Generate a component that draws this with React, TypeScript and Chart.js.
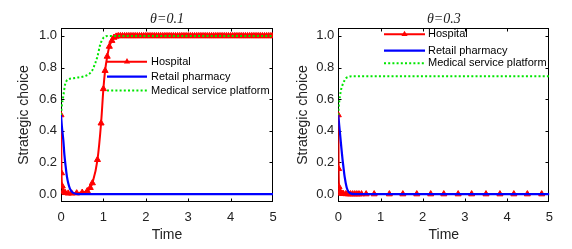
import React, { useEffect, useRef } from "react";
import { Chart, registerables } from "chart.js";

Chart.register(...registerables);

// ---------------- data ----------------
const seriesNames = ["Hospital", "Retail pharmacy", "Medical service platform"];
const panelTitles = ["θ=0.1", "θ=0.3"];
const timeTicks = [0, 1, 2, 3, 4, 5];
const choiceTicks = [0, 0.2, 0.4, 0.6, 0.8, 1.0];
const axisTitleX = "Time";
const axisTitleY = "Strategic choice";

// panel A : θ = 0.1
const hospitalTimeA = [
  0, 0.012, 0.03, 0.055, 0.1, 0.17, 0.25, 0.37, 0.5, 0.62,
  0.69, 0.74, 0.86, 0.945, 1.0, 1.04, 1.09, 1.14, 1.2, 1.25,
  1.3,
  1.35, 1.4, 1.45, 1.5, 1.55, 1.6, 1.65, 1.7, 1.75, 1.8,
  1.85, 1.9, 1.95, 2, 2.05, 2.1, 2.15, 2.2, 2.25, 2.3,
  2.35, 2.4, 2.45, 2.5, 2.55, 2.6, 2.65, 2.7, 2.75, 2.8,
  2.85, 2.9, 2.95, 3, 3.05, 3.1, 3.15, 3.2, 3.25, 3.3,
  3.35, 3.4, 3.45, 3.5, 3.55, 3.6, 3.65, 3.7, 3.75, 3.8,
  3.85, 3.9, 3.95, 4, 4.05, 4.1, 4.15, 4.2, 4.25, 4.3,
  4.35, 4.4, 4.45, 4.5, 4.55, 4.6, 4.65, 4.7, 4.75, 4.8,
  4.85, 4.9, 4.95, 5,
];
const hospitalA = [
  0.5, 0.133, 0.05, 0.017, 0.008, 0.005, 0.005, 0.006, 0.01, 0.02,
  0.04, 0.07, 0.217, 0.448, 0.665, 0.78, 0.87, 0.933, 0.97, 0.99,
  0.997,
  1, 1, 1, 1, 1, 1, 1, 1, 1, 1,
  1, 1, 1, 1, 1, 1, 1, 1, 1, 1,
  1, 1, 1, 1, 1, 1, 1, 1, 1, 1,
  1, 1, 1, 1, 1, 1, 1, 1, 1, 1,
  1, 1, 1, 1, 1, 1, 1, 1, 1, 1,
  1, 1, 1, 1, 1, 1, 1, 1, 1, 1,
  1, 1, 1, 1, 1, 1, 1, 1, 1, 1,
  1, 1, 1, 1,
];
const pharmacyTimeA = [0, 0.02, 0.055, 0.08, 0.11, 0.14, 0.17, 0.21, 0.25, 0.3, 0.4, 5];
const pharmacyA = [0.5, 0.43, 0.34, 0.25, 0.175, 0.11, 0.07, 0.035, 0.017, 0.006, 0, 0];
const platformTimeA = [0, 0.02, 0.055, 0.094, 0.13, 0.17, 0.3, 0.45, 0.55, 0.65, 0.72, 0.76, 0.81, 0.86, 0.92, 0.97, 1.0, 1.05, 1.1, 1.3, 5];
const platformA = [0.5, 0.56, 0.62, 0.69, 0.715, 0.725, 0.733, 0.739, 0.745, 0.757, 0.775, 0.795, 0.83, 0.87, 0.94, 0.975, 0.988, 0.997, 1.0, 1.0, 1.0];

// panel B : θ = 0.3
const hospitalTimeB = [
  0, 0.008, 0.018, 0.03, 0.045, 0.065, 0.09, 0.12, 0.18,
  0.24, 0.29, 0.34, 0.39, 0.44, 0.49, 0.55, 0.66, 0.85,
  1.21, 1.53, 1.86, 2.19, 2.5, 2.84, 3.16, 3.5, 3.83, 4.16, 4.48, 4.82, 5,
];
const hospitalB = [
  0.5, 0.16, 0.045, 0.02, 0.01, 0.005, 0.003, 0.002, 0.001,
  0, 0, 0, 0, 0, 0, 0, 0, 0,
  0, 0, 0, 0, 0, 0, 0, 0, 0, 0, 0, 0, 0,
];
const pharmacyTimeB = [0, 0.02, 0.04, 0.07, 0.1, 0.12, 0.15, 0.2, 0.25, 0.3, 0.4, 5];
const pharmacyB = [0.5, 0.44, 0.385, 0.3, 0.22, 0.175, 0.11, 0.04, 0.012, 0.003, 0, 0];
const platformTimeB = [0, 0.01, 0.04, 0.07, 0.1, 0.14, 0.18, 0.23, 0.28, 0.4, 5];
const platformB = [0.5, 0.55, 0.62, 0.665, 0.69, 0.715, 0.732, 0.74, 0.744, 0.745, 0.745];

// ---------------- styling / layout ----------------
const FONT = "'Liberation Sans', Arial, sans-serif";
const TEXT = "#222222";
const COLORS = ["#ff0000", "#0000ff", "#00e600"];

const panels = [
  {
    title: panelTitles[0],
    series: [
      [hospitalTimeA, hospitalA],
      [pharmacyTimeA, pharmacyA],
      [platformTimeA, platformA],
    ],
    left: 0,
    width: 290,
    pad: { left: 15.6, right: 17, top: 0, bottom: 5.6 },
    plotLeft: 61,
    hideEndMarker: false,
    legend: { x0: 46, x1: 86, text: 90, rows: [33.7, 48.7, 62.5] },
  },
  {
    title: panelTitles[1],
    series: [
      [hospitalTimeB, hospitalB],
      [pharmacyTimeB, pharmacyB],
      [platformTimeB, platformB],
    ],
    left: 290,
    width: 282,
    pad: { left: 4.6, right: 22.7, top: 0, bottom: 5.6 },
    plotLeft: 48.3,
    hideEndMarker: true,
    legend: { x0: 45.7, x1: 86.7, text: 89.7, rows: [6.3, 22.7, 35.3] },
  },
];

const HEIGHT = 249;
const PLOT_TOP = 28;
const PLOT_BOTTOM = 202;

function zip(t: number[], v: number[]) {
  return t.map((x, i) => ({ x, y: v[i] }));
}

function triangle(ctx: CanvasRenderingContext2D, x: number, y: number, r: number) {
  ctx.beginPath();
  for (let k = 0; k < 3; k++) {
    const a = (k * 2 * Math.PI) / 3;
    const px = x + Math.sin(a) * r;
    const py = y - Math.cos(a) * r;
    if (k === 0) ctx.moveTo(px, py);
    else ctx.lineTo(px, py);
  }
  ctx.closePath();
  ctx.fill();
}

const boxPlugin = {
  id: "matlabBox",
  beforeDatasetsDraw(chart: any) {
    const { ctx, chartArea } = chart;
    const { left, right, top, bottom } = chartArea;
    const xs = chart.scales.x;
    const ys = chart.scales.y;
    ctx.save();
    ctx.strokeStyle = "#000";
    ctx.lineWidth = 1;
    const L = Math.round(left) + 0.5;
    const R = Math.round(right) - 0.5;
    const T = Math.round(top) + 0.5;
    const B = Math.round(bottom) - 0.5;
    ctx.strokeRect(L, T, R - L, B - T);
    const tl = 3;
    ctx.beginPath();
    timeTicks.forEach((v) => {
      const px = Math.round(xs.getPixelForValue(v)) + 0.5;
      if (px <= L + 1 || px >= R - 1) return;
      ctx.moveTo(px, B);
      ctx.lineTo(px, B - tl);
      ctx.moveTo(px, T);
      ctx.lineTo(px, T + tl);
    });
    choiceTicks.forEach((v) => {
      const py = Math.round(ys.getPixelForValue(v)) + 0.5;
      ctx.moveTo(L, py);
      ctx.lineTo(L + tl, py);
      ctx.moveTo(R, py);
      ctx.lineTo(R - tl, py);
    });
    ctx.stroke();
    ctx.restore();
  },
};

const legendPlugin = {
  id: "insideLegend",
  afterDatasetsDraw(chart: any, _args: any, opts: any) {
    const { ctx, chartArea } = chart;
    const lg = opts.layout;
    if (!lg) return;
    ctx.save();
    chart.data.datasets.forEach((ds: any, i: number) => {
      const y = chartArea.top + lg.rows[i];
      const x0 = chartArea.left + lg.x0;
      const x1 = chartArea.left + lg.x1;
      ctx.strokeStyle = ds.borderColor;
      ctx.lineWidth = ds.borderWidth;
      ctx.setLineDash(ds.borderDash || []);
      ctx.beginPath();
      ctx.moveTo(x0, y);
      ctx.lineTo(x1, y);
      ctx.stroke();
      ctx.setLineDash([]);
      if (ds.pointStyle === "triangle") {
        ctx.fillStyle = ds.borderColor;
        triangle(ctx, (x0 + x1) / 2, y, 3.6);
      }
      ctx.fillStyle = "#000";
      ctx.font = `11px ${FONT}`;
      ctx.textBaseline = "middle";
      ctx.textAlign = "left";
      ctx.fillText(ds.label, chartArea.left + lg.text, y);
    });
    ctx.restore();
  },
};

function Panel({ cfg }: { cfg: (typeof panels)[number] }) {
  const ref = useRef<HTMLCanvasElement | null>(null);
  useEffect(() => {
    if (!ref.current) return;
    const [h, p, m] = cfg.series;
    const chart = new Chart(ref.current, {
      type: "line",
      data: {
        datasets: [
          {
            label: seriesNames[0],
            data: zip(h[0], h[1]),
            borderColor: COLORS[0],
            backgroundColor: COLORS[0],
            borderWidth: 2,
            pointStyle: "triangle",
            pointRadius: (c: any) => (cfg.hideEndMarker && c.raw && c.raw.x >= 5 ? 0 : 3.5),
            pointBackgroundColor: COLORS[0],
            pointBorderColor: COLORS[0],
            pointBorderWidth: 1,
            cubicInterpolationMode: "monotone",
            order: 3,
          },
          {
            label: seriesNames[1],
            data: zip(p[0], p[1]),
            borderColor: COLORS[1],
            backgroundColor: COLORS[1],
            borderWidth: 2.2,
            pointRadius: 0,
            cubicInterpolationMode: "monotone",
            order: 2,
          },
          {
            label: seriesNames[2],
            data: zip(m[0], m[1]),
            borderColor: COLORS[2],
            backgroundColor: COLORS[2],
            borderWidth: 2,
            borderDash: [2, 2.2],
            pointRadius: 0,
            cubicInterpolationMode: "monotone",
            order: 1,
          },
        ],
      } as any,
      options: {
        responsive: false,
        animation: false,
        events: [],
        layout: { padding: cfg.pad },
        scales: {
          x: {
            type: "linear",
            min: 0,
            max: 5,
            grid: { display: false, drawTicks: false },
            border: { display: false },
            afterBuildTicks: (s: any) => {
              s.ticks = timeTicks.map((v) => ({ value: v }));
            },
            afterFit: (s: any) => {
              s.height = HEIGHT - cfg.pad.bottom - PLOT_BOTTOM;
            },
            ticks: {
              color: TEXT,
              font: { family: FONT, size: 13 },
              padding: 8,
              maxRotation: 0,
              autoSkip: false,
              callback: (v: any) => String(v),
            },
            title: {
              display: true,
              text: axisTitleX,
              color: TEXT,
              font: { family: FONT, size: 14 },
              padding: 0,
            },
          },
          y: {
            type: "linear",
            min: -0.05,
            max: 1.05,
            grid: { display: false, drawTicks: false },
            border: { display: false },
            afterBuildTicks: (s: any) => {
              s.ticks = choiceTicks.map((v) => ({ value: v }));
            },
            afterFit: (s: any) => {
              s.width = cfg.plotLeft - cfg.pad.left;
            },
            ticks: {
              color: TEXT,
              font: { family: FONT, size: 13 },
              padding: 4,
              autoSkip: false,
              callback: (v: any) => Number(v).toFixed(1),
            },
            title: {
              display: true,
              text: axisTitleY,
              color: TEXT,
              font: { family: FONT, size: 14 },
              padding: 0,
            },
          },
        },
        plugins: {
          legend: { display: false },
          tooltip: { enabled: false },
          title: {
            display: true,
            text: cfg.title,
            fullSize: false,
            color: TEXT,
            font: { family: "'Liberation Serif', 'Times New Roman', serif", size: 14, style: "italic", weight: "normal" },
            padding: { top: 10.6, bottom: 0.6 },
          },
          insideLegend: { layout: cfg.legend },
        } as any,
      } as any,
      plugins: [boxPlugin, legendPlugin],
    });
    return () => chart.destroy();
  }, [cfg]);
  return (
    <canvas
      ref={ref}
      width={cfg.width}
      height={HEIGHT}
      style={{ position: "absolute", left: cfg.left, top: 0, width: cfg.width, height: HEIGHT }}
    />
  );
}

export default function App() {
  return (
    <div style={{ position: "fixed", left: 0, top: 0, width: 572, height: HEIGHT, background: "#fff" }}>
      {panels.map((cfg, i) => (
        <Panel key={i} cfg={cfg} />
      ))}
    </div>
  );
}
